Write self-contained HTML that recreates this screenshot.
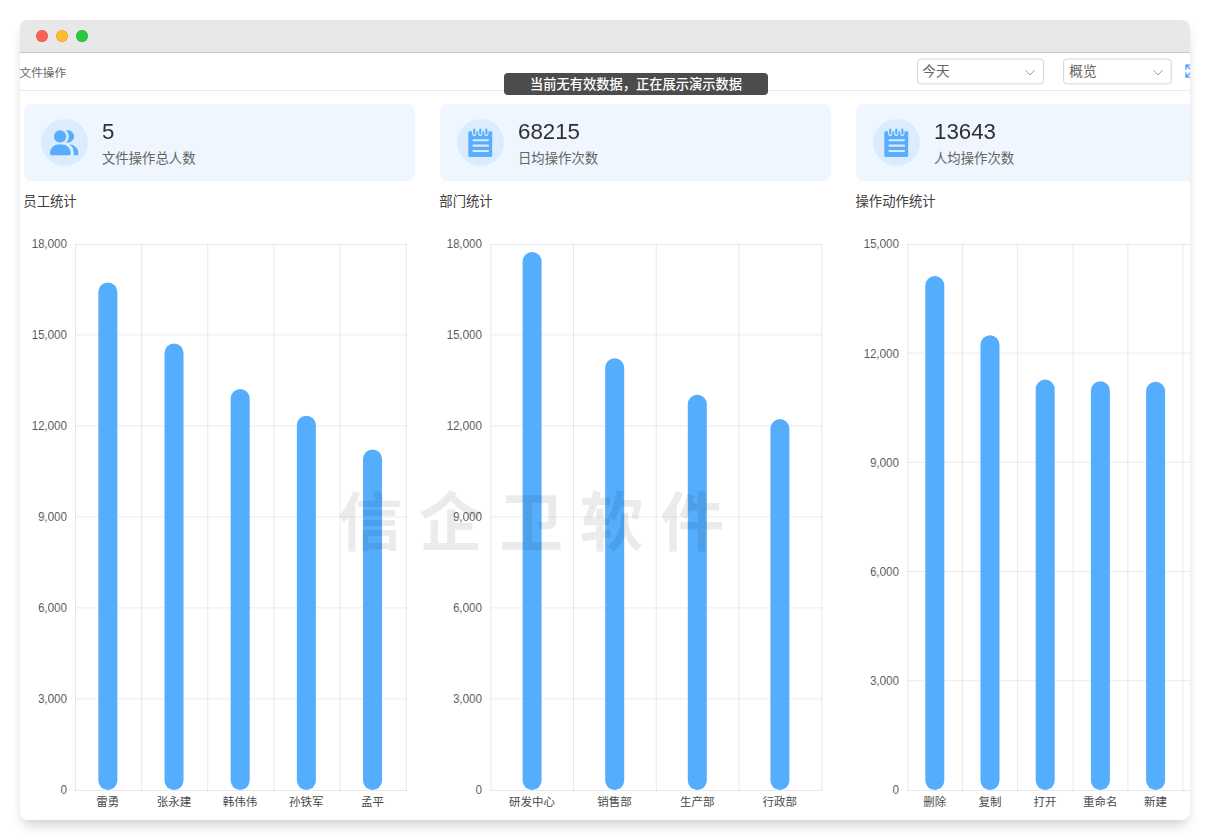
<!DOCTYPE html>
<html lang="zh-CN">
<head>
<meta charset="utf-8">
<title>文件操作</title>
<style>
html,body{margin:0;padding:0;}
body{width:1210px;height:840px;background:#fff;overflow:hidden;position:relative;font-family:"Liberation Sans",sans-serif;}
.window{position:absolute;left:20px;top:20px;width:1170px;height:800px;border-radius:8px;background:#fff;overflow:hidden;box-shadow:0 9px 14px -4px rgba(0,0,0,.17),0 2px 8px rgba(0,0,0,.04);}
.titlebar{position:absolute;left:0;top:0;width:100%;height:32px;background:#e8e8e8;border-bottom:1px solid #c6c6c6;}
.dot{position:absolute;top:10px;width:12px;height:12px;border-radius:50%;box-shadow:inset 0 0 0 .6px rgba(0,0,0,.13);}
.hdrline{position:absolute;left:0;width:100%;height:1px;background:#ebebeb;}
.abs{position:absolute;display:block;overflow:visible;}
.tx{position:absolute;display:block;white-space:nowrap;font-family:"Liberation Sans","Noto Sans CJK SC",sans-serif;}
.nm{position:absolute;display:block;white-space:nowrap;will-change:transform;font-family:"Liberation Sans",sans-serif;}
.tip{position:absolute;background:#4c4c4c;border-radius:4px;}
.card{position:absolute;background:#f0f6ff;border-radius:8px;}
.icbg{position:absolute;border-radius:50%;background:#dbecff;}
.wm{pointer-events:none;}

</style>
</head>
<body>
<div class="window">
<div class="titlebar"><i class="dot" style="left:16px;background:#fe5f57"></i><i class="dot" style="left:36px;background:#febc2e"></i><i class="dot" style="left:56px;background:#28c840"></i></div>
<header class="toolbar">
<div class="hdrline" style="top:70px"></div>
<span class="tx " style="left:-0.5px;top:46.9px;width:46.6px;height:11.65px;font-size:11.65px;line-height:11.65px;color:#686868">文件操作</span>
<svg class="abs" style="left:896px;top:37px" width="130.9" height="29.8"><rect x="1.65" y="2.1" width="125.9" height="24.8" rx="3" fill="#fff" stroke="#d3d3d3" stroke-width="1"/></svg>
<span class="tx " style="left:902.3px;top:45.1px;width:27.4px;height:13.7px;font-size:13.7px;line-height:13.7px;color:#636363">今天</span>
<svg class="abs" style="left:1004.3px;top:48.9px" width="12" height="8" viewBox="0 0 12 8"><path d="M1.7 1.5 L6 6 L10.3 1.5" fill="none" stroke="#9c9c9c" stroke-width="1" stroke-linecap="round" stroke-linejoin="round"/></svg>
<svg class="abs" style="left:1042px;top:37px" width="112.6" height="29.8"><rect x="1.6" y="2.1" width="107.6" height="24.8" rx="3" fill="#fff" stroke="#d3d3d3" stroke-width="1"/></svg>
<span class="tx " style="left:1049.3px;top:45.1px;width:27.4px;height:13.7px;font-size:13.7px;line-height:13.7px;color:#636363">概览</span>
<svg class="abs" style="left:1132.2px;top:48.9px" width="12" height="8" viewBox="0 0 12 8"><path d="M1.7 1.5 L6 6 L10.3 1.5" fill="none" stroke="#9c9c9c" stroke-width="1" stroke-linecap="round" stroke-linejoin="round"/></svg>
<svg class="abs" style="left:1165.2px;top:44.3px" width="14" height="14" viewBox="0 0 14 14" fill="none" stroke="#409eff" stroke-width="1.25" stroke-linecap="round" stroke-linejoin="round"><path d="M1 5.2V1h4.2M1 1l4.3 4.3M1 8.8V13h4.2M1 13l4.3-4.3M13 5.2V1H8.8M13 1L8.7 5.3M13 8.8V13H8.8M13 13L8.7 8.7"/></svg>
<div class="tip" style="left:484px;top:53px;width:264.2px;height:22px"></div>
<span class="tx " style="left:510.1px;top:57.6px;width:212px;height:13.25px;font-size:13.25px;line-height:13.25px;color:#fff;font-weight:500">当前无有效数据，正在展示演示数据</span>
</header>
<section class="cards">
<article class="stat">
<div class="card" style="left:4px;top:84px;width:391px;height:77px"></div>
<div class="icbg" style="left:20.85px;top:98.9px;width:47.2px;height:47.2px"></div>
<svg class="abs" style="left:20.85px;top:98.9px" width="47.2" height="47.2" viewBox="0 0 48 48"><g fill='#58adfd' transform='translate(-0.3,-0.15)'><circle cx='19.75' cy='17.85' r='6.25'/><path d='M9.4 35.6v-1.1a8.6 8.6 0 0 1 8.6-8.4h3.9a8.6 8.6 0 0 1 8.6 8.4v1.1a1.3 1.3 0 0 1-1.3 1.3H10.7a1.3 1.3 0 0 1-1.3-1.3z'/><g transform='translate(-0.35,0)'><path d='M26.2 11.9a6.25 6.25 0 1 1 0 11.9a7.7 7.7 0 0 0 0-11.9z'/><path d='M29.8 26.1a8.9 8.9 0 0 1 8.9 8.4v1.1a1.3 1.3 0 0 1-1.3 1.3h-3.5v-2.4a10 10 0 0 0-4.1-8.4z'/></g></g></svg>
<span class="nm val" style="top:101.2px;font-size:22.3px;line-height:22.3px;color:#303030;left:82.3px;">5</span>
<span class="tx " style="left:81.9px;top:132.1px;width:93.66px;height:13.38px;font-size:13.38px;line-height:13.38px;color:#646464">文件操作总人数</span>
</article>
<article class="stat">
<div class="card" style="left:420px;top:84px;width:391px;height:77px"></div>
<div class="icbg" style="left:436.85px;top:98.9px;width:47.2px;height:47.2px"></div>
<svg class="abs" style="left:436.85px;top:98.9px" width="47.2" height="47.2" viewBox="0 0 48 48"><g transform='translate(-0.35,-0.55)'><path fill='#58adfd' d='M11.85 14.5a1.5 1.5 0 0 1 1.5-1.5h21.3a1.5 1.5 0 0 1 1.5 1.5v23.1a1.5 1.5 0 0 1-1.5 1.5h-21.3a1.5 1.5 0 0 1-1.5-1.5z'/><g stroke='#dbecff' stroke-width='4.4' stroke-linecap='round'><path d='M17.9 11.8v4M24 11.8v4M30.2 11.8v4'/></g><g stroke='#58adfd' stroke-width='2.2' stroke-linecap='round'><path d='M17.9 11.4v4.1M24 11.4v4.1M30.2 11.4v4.1'/></g><g stroke='#d9ebff' stroke-width='2.2' stroke-linecap='round'><path d='M17.1 22.2h14.8M17.1 27.7h14.8M17.1 33.1h14.8'/></g></g></svg>
<span class="nm val" style="top:101.2px;font-size:22.3px;line-height:22.3px;color:#303030;left:498.3px;">68215</span>
<span class="tx " style="left:497.9px;top:132.1px;width:80.28px;height:13.38px;font-size:13.38px;line-height:13.38px;color:#646464">日均操作次数</span>
</article>
<article class="stat">
<div class="card" style="left:836px;top:84px;width:391px;height:77px"></div>
<div class="icbg" style="left:852.85px;top:98.9px;width:47.2px;height:47.2px"></div>
<svg class="abs" style="left:852.85px;top:98.9px" width="47.2" height="47.2" viewBox="0 0 48 48"><g transform='translate(-0.35,-0.55)'><path fill='#58adfd' d='M11.85 14.5a1.5 1.5 0 0 1 1.5-1.5h21.3a1.5 1.5 0 0 1 1.5 1.5v23.1a1.5 1.5 0 0 1-1.5 1.5h-21.3a1.5 1.5 0 0 1-1.5-1.5z'/><g stroke='#dbecff' stroke-width='4.4' stroke-linecap='round'><path d='M17.9 11.8v4M24 11.8v4M30.2 11.8v4'/></g><g stroke='#58adfd' stroke-width='2.2' stroke-linecap='round'><path d='M17.9 11.4v4.1M24 11.4v4.1M30.2 11.4v4.1'/></g><g stroke='#d9ebff' stroke-width='2.2' stroke-linecap='round'><path d='M17.1 22.2h14.8M17.1 27.7h14.8M17.1 33.1h14.8'/></g></g></svg>
<span class="nm val" style="top:101.2px;font-size:22.3px;line-height:22.3px;color:#303030;left:914.3px;">13643</span>
<span class="tx " style="left:913.9px;top:132.1px;width:80.28px;height:13.38px;font-size:13.38px;line-height:13.38px;color:#646464">人均操作次数</span>
</article>
</section>
<main class="charts">
<section class="chart">
<span class="tx " style="left:3.3px;top:174.5px;width:53.4px;height:13.35px;font-size:13.35px;line-height:13.35px;color:#404040">员工统计</span>
<svg class="abs" style="left:53px;top:222px" width="336.3" height="552"><path d="M2 2.5 H333.8 M2 548.5 H333.8 M2.5 2 V549 M68.6 2 V549 M134.7 2 V549 M200.9 2 V549 M267 2 V549 M333.3 2 V549" stroke="#000" stroke-opacity="0.085" fill="none"/><path d="M2 92.9 H333.8 M2 183.9 H333.8 M2 274.9 H333.8 M2 365.9 H333.8 M2 456.9 H333.8" stroke="#000" stroke-opacity="0.08" fill="none"/><rect x="25.35" y="40.4" width="19" height="507.6" rx="9.5" fill="#55adfd"/><rect x="91.52" y="101.4" width="19" height="446.6" rx="9.5" fill="#55adfd"/><rect x="157.69" y="146.9" width="19" height="401.1" rx="9.5" fill="#55adfd"/><rect x="223.86" y="173.7" width="19" height="374.3" rx="9.5" fill="#55adfd"/><rect x="290.03" y="207.4" width="19" height="340.6" rx="9.5" fill="#55adfd"/></svg>
<span class="nm ax" style="top:218.4px;font-size:12.3px;line-height:12.3px;color:#555;transform:scaleX(0.94);transform-origin:right center;left:-53.1px;width:100px;text-align:right;">18,000</span>
<span class="nm ax" style="top:309.4px;font-size:12.3px;line-height:12.3px;color:#555;transform:scaleX(0.94);transform-origin:right center;left:-53.1px;width:100px;text-align:right;">15,000</span>
<span class="nm ax" style="top:400.4px;font-size:12.3px;line-height:12.3px;color:#555;transform:scaleX(0.94);transform-origin:right center;left:-53.1px;width:100px;text-align:right;">12,000</span>
<span class="nm ax" style="top:491.4px;font-size:12.3px;line-height:12.3px;color:#555;transform:scaleX(0.94);transform-origin:right center;left:-53.1px;width:100px;text-align:right;">9,000</span>
<span class="nm ax" style="top:582.4px;font-size:12.3px;line-height:12.3px;color:#555;transform:scaleX(0.94);transform-origin:right center;left:-53.1px;width:100px;text-align:right;">6,000</span>
<span class="nm ax" style="top:673.4px;font-size:12.3px;line-height:12.3px;color:#555;transform:scaleX(0.94);transform-origin:right center;left:-53.1px;width:100px;text-align:right;">3,000</span>
<span class="nm ax" style="top:764.4px;font-size:12.3px;line-height:12.3px;color:#555;transform:scaleX(0.94);transform-origin:right center;left:-53.1px;width:100px;text-align:right;">0</span>
<span class="tx " style="left:76.25px;top:776.9px;width:23px;height:11.5px;font-size:11.5px;line-height:11.5px;color:#4a4a4a">雷勇</span>
<span class="tx " style="left:136.67px;top:776.9px;width:34.5px;height:11.5px;font-size:11.5px;line-height:11.5px;color:#4a4a4a">张永建</span>
<span class="tx " style="left:202.84px;top:776.9px;width:34.5px;height:11.5px;font-size:11.5px;line-height:11.5px;color:#4a4a4a">韩伟伟</span>
<span class="tx " style="left:269.01px;top:776.9px;width:34.5px;height:11.5px;font-size:11.5px;line-height:11.5px;color:#4a4a4a">孙铁军</span>
<span class="tx " style="left:340.93px;top:776.9px;width:23px;height:11.5px;font-size:11.5px;line-height:11.5px;color:#4a4a4a">孟平</span>
</section>
<section class="chart">
<span class="tx " style="left:419.3px;top:174.5px;width:53.4px;height:13.35px;font-size:13.35px;line-height:13.35px;color:#404040">部门统计</span>
<svg class="abs" style="left:469px;top:222px" width="335.8" height="552"><path d="M1.5 2.5 H333.3 M1.5 548.5 H333.3 M2 2 V549 M84.5 2 V549 M167.3 2 V549 M250 2 V549 M332.8 2 V549" stroke="#000" stroke-opacity="0.085" fill="none"/><path d="M1.5 92.9 H333.3 M1.5 183.9 H333.3 M1.5 274.9 H333.3 M1.5 365.9 H333.3 M1.5 456.9 H333.3" stroke="#000" stroke-opacity="0.08" fill="none"/><rect x="33.6" y="9.9" width="19" height="538.1" rx="9.5" fill="#55adfd"/><rect x="116.2" y="116.3" width="19" height="431.7" rx="9.5" fill="#55adfd"/><rect x="198.8" y="152.8" width="19" height="395.2" rx="9.5" fill="#55adfd"/><rect x="281.4" y="177.1" width="19" height="370.9" rx="9.5" fill="#55adfd"/></svg>
<span class="nm ax" style="top:218.4px;font-size:12.3px;line-height:12.3px;color:#555;transform:scaleX(0.94);transform-origin:right center;left:362.4px;width:100px;text-align:right;">18,000</span>
<span class="nm ax" style="top:309.4px;font-size:12.3px;line-height:12.3px;color:#555;transform:scaleX(0.94);transform-origin:right center;left:362.4px;width:100px;text-align:right;">15,000</span>
<span class="nm ax" style="top:400.4px;font-size:12.3px;line-height:12.3px;color:#555;transform:scaleX(0.94);transform-origin:right center;left:362.4px;width:100px;text-align:right;">12,000</span>
<span class="nm ax" style="top:491.4px;font-size:12.3px;line-height:12.3px;color:#555;transform:scaleX(0.94);transform-origin:right center;left:362.4px;width:100px;text-align:right;">9,000</span>
<span class="nm ax" style="top:582.4px;font-size:12.3px;line-height:12.3px;color:#555;transform:scaleX(0.94);transform-origin:right center;left:362.4px;width:100px;text-align:right;">6,000</span>
<span class="nm ax" style="top:673.4px;font-size:12.3px;line-height:12.3px;color:#555;transform:scaleX(0.94);transform-origin:right center;left:362.4px;width:100px;text-align:right;">3,000</span>
<span class="nm ax" style="top:764.4px;font-size:12.3px;line-height:12.3px;color:#555;transform:scaleX(0.94);transform-origin:right center;left:362.4px;width:100px;text-align:right;">0</span>
<span class="tx " style="left:489px;top:776.9px;width:46px;height:11.5px;font-size:11.5px;line-height:11.5px;color:#4a4a4a">研发中心</span>
<span class="tx " style="left:577.35px;top:776.9px;width:34.5px;height:11.5px;font-size:11.5px;line-height:11.5px;color:#4a4a4a">销售部</span>
<span class="tx " style="left:659.95px;top:776.9px;width:34.5px;height:11.5px;font-size:11.5px;line-height:11.5px;color:#4a4a4a">生产部</span>
<span class="tx " style="left:742.55px;top:776.9px;width:34.5px;height:11.5px;font-size:11.5px;line-height:11.5px;color:#4a4a4a">行政部</span>
</section>
<section class="chart">
<span class="tx " style="left:835.5px;top:174.5px;width:80.1px;height:13.35px;font-size:13.35px;line-height:13.35px;color:#404040">操作动作统计</span>
<svg class="abs" style="left:885px;top:222px" width="336" height="552"><path d="M2.3 2.5 H333.5 M2.3 548.5 H333.5 M2.8 2 V549 M57.45 2 V549 M112.55 2 V549 M168.1 2 V549 M222.9 2 V549 M277.9 2 V549 M333 2 V549" stroke="#000" stroke-opacity="0.085" fill="none"/><path d="M2.3 111.1 H333.5 M2.3 220.3 H333.5 M2.3 329.5 H333.5 M2.3 438.7 H333.5" stroke="#000" stroke-opacity="0.08" fill="none"/><rect x="20.3" y="33.9" width="19" height="514.1" rx="9.5" fill="#55adfd"/><rect x="75.5" y="93.3" width="19" height="454.7" rx="9.5" fill="#55adfd"/><rect x="130.7" y="137.6" width="19" height="410.4" rx="9.5" fill="#55adfd"/><rect x="185.9" y="139.2" width="19" height="408.8" rx="9.5" fill="#55adfd"/><rect x="241.1" y="139.7" width="19" height="408.3" rx="9.5" fill="#55adfd"/></svg>
<span class="nm ax" style="top:218.4px;font-size:12.3px;line-height:12.3px;color:#555;transform:scaleX(0.94);transform-origin:right center;left:779.2px;width:100px;text-align:right;">15,000</span>
<span class="nm ax" style="top:327.6px;font-size:12.3px;line-height:12.3px;color:#555;transform:scaleX(0.94);transform-origin:right center;left:779.2px;width:100px;text-align:right;">12,000</span>
<span class="nm ax" style="top:436.8px;font-size:12.3px;line-height:12.3px;color:#555;transform:scaleX(0.94);transform-origin:right center;left:779.2px;width:100px;text-align:right;">9,000</span>
<span class="nm ax" style="top:546px;font-size:12.3px;line-height:12.3px;color:#555;transform:scaleX(0.94);transform-origin:right center;left:779.2px;width:100px;text-align:right;">6,000</span>
<span class="nm ax" style="top:655.2px;font-size:12.3px;line-height:12.3px;color:#555;transform:scaleX(0.94);transform-origin:right center;left:779.2px;width:100px;text-align:right;">3,000</span>
<span class="nm ax" style="top:764.4px;font-size:12.3px;line-height:12.3px;color:#555;transform:scaleX(0.94);transform-origin:right center;left:779.2px;width:100px;text-align:right;">0</span>
<span class="tx " style="left:903.2px;top:776.9px;width:23px;height:11.5px;font-size:11.5px;line-height:11.5px;color:#4a4a4a">删除</span>
<span class="tx " style="left:958.4px;top:776.9px;width:23px;height:11.5px;font-size:11.5px;line-height:11.5px;color:#4a4a4a">复制</span>
<span class="tx " style="left:1013.6px;top:776.9px;width:23px;height:11.5px;font-size:11.5px;line-height:11.5px;color:#4a4a4a">打开</span>
<span class="tx " style="left:1063.05px;top:776.9px;width:34.5px;height:11.5px;font-size:11.5px;line-height:11.5px;color:#4a4a4a">重命名</span>
<span class="tx " style="left:1124px;top:776.9px;width:23px;height:11.5px;font-size:11.5px;line-height:11.5px;color:#4a4a4a">新建</span>
</section>
</main>
<span class="tx wm" style="left:318.2px;top:471px;width:420px;height:64px;font-size:64px;line-height:64px;font-weight:bold;letter-spacing:16.5px;color:#000;opacity:0.08">信企卫软件</span>
</div>
</body>
</html>
